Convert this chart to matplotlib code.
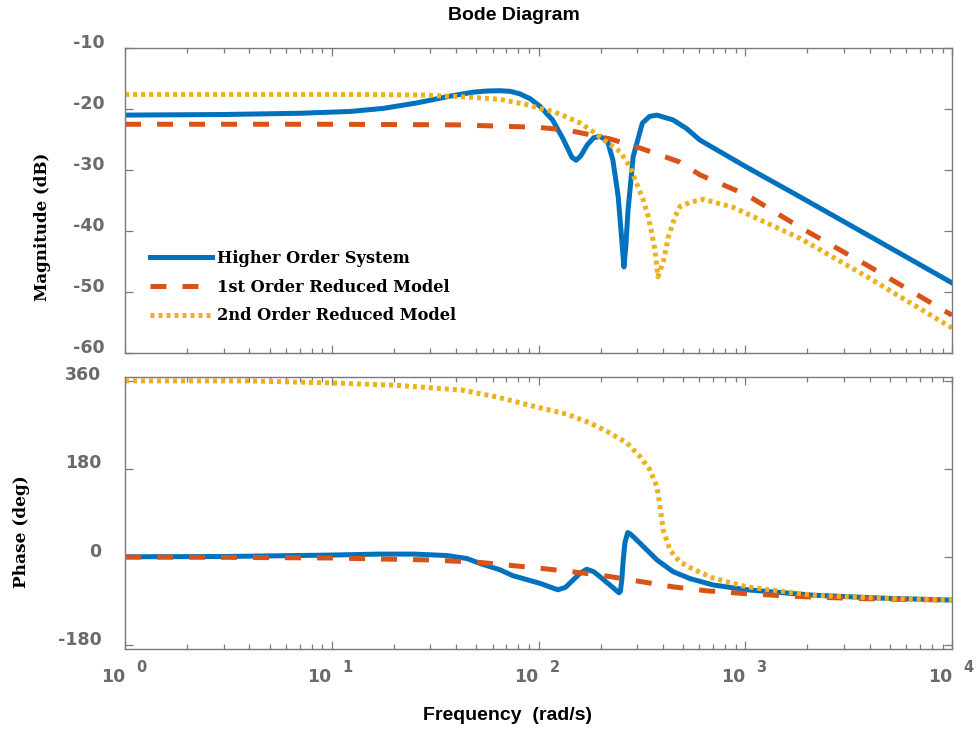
import numpy as np
import matplotlib
matplotlib.use('Agg')
import matplotlib.pyplot as plt
from matplotlib.ticker import NullFormatter, FixedLocator
from matplotlib.transforms import ScaledTranslation

# magnitude (dB)
w_hos_mag = [1, 3, 7, 12.3, 17.7, 25.8, 37.2, 48, 56, 65, 73, 81, 91, 102, 117, 131, 145, 152, 160, 172, 185, 198, 215, 229, 243, 252, 259, 265, 271, 287, 318, 345, 374, 448, 520, 604, 1000, 1840, 3880, 10000]
hos_mag = [-21.0, -20.9, -20.7, -20.4, -19.9, -19.0, -17.9, -17.25, -17.05, -17.0, -17.1, -17.5, -18.3, -19.6, -21.8, -24.8, -27.9, -28.4, -27.7, -25.9, -24.7, -24.5, -25.1, -28.4, -34.4, -40.9, -45.9, -42.0, -36.6, -27.8, -22.3, -21.2, -21.0, -21.8, -23.2, -25.1, -29.4, -34.4, -40.6, -48.5]

w_rom1_mag = [1, 10, 40, 100, 140, 222, 310, 483, 604, 1019, 1840, 3880, 10000]
rom1_mag = [-22.5, -22.5, -22.6, -23.0, -23.5, -24.9, -26.4, -28.7, -30.8, -34.1, -39.4, -45.6, -53.8]

w_rom2_mag = [1, 10, 27, 43, 65, 88, 102, 117, 137, 159, 183, 213, 248, 277, 298, 321, 340, 353, 366, 378, 403, 425, 457, 483, 540, 625, 873, 1273, 1840, 3880, 10000]
rom2_mag = [-17.6, -17.6, -17.7, -18.0, -18.4, -19.3, -19.9, -20.4, -21.3, -22.3, -23.7, -25.4, -27.0, -29.5, -32.2, -34.9, -37.7, -40.4, -43.1, -47.5, -44.8, -40.9, -37.7, -36.0, -35.3, -34.8, -36.1, -38.7, -41.2, -47.5, -55.9]

# phase (deg)
w_hos_ph = [1, 3, 10, 17, 25, 36, 45, 52, 65, 75, 102, 124, 135, 147, 159, 171, 185, 198, 227, 245, 249, 253, 257, 262, 270, 278, 290, 310, 374, 448, 540, 698, 1019, 2128, 4485, 10000]
hos_ph = [0.5, 1, 4, 6, 6, 3, -3, -13, -26, -38, -54, -67, -62, -47, -33, -25, -30, -40, -61, -73, -70, -45, -5, 30, 50, 47, 40, 28, -6, -30, -44, -57, -67, -78, -84, -88]

w_rom1_ph = [1, 3, 10, 17, 30, 52, 102, 159, 222, 310, 448, 650, 1019, 1500, 2128, 4485, 10000]
rom1_ph = [-0.2, -0.6, -2, -4, -6, -11, -23, -32, -40, -50, -61, -69, -75, -79, -82, -86, -88]

w_rom2_ph = [1, 3.9, 9.8, 20.6, 43, 63, 91, 137, 175, 214, 268, 310, 346, 374, 387, 401, 433, 483, 560, 698, 1019, 2128, 4485, 10000]
rom2_ph = [360, 360, 356, 351, 341, 327, 310, 292, 275, 257, 233, 205, 178, 144, 103, 55, 14, -10, -25, -43, -61, -78, -84, -88]

labels = ['Higher Order System', '1st Order Reduced Model', '2nd Order Reduced Model']
mag_ticks = [-60, -50, -40, -30, -20, -10]
ph_ticks = [-180, 0, 180, 360]
decades = [0, 1, 2, 3, 4]
minor_x = [k * 10.0 ** d for d in decades[:-1] for k in range(2, 10)]

blue = '#0072BD'
red = '#D95319'
yellow = '#EDB120'
gray = '#6a6a6a'
spine_col = '#7a7a7a'

fig = plt.figure(figsize=(9.76, 7.33), dpi=100)
ax1 = fig.add_axes([0.1281, 0.5184, 0.8473, 0.4161])
ax2 = fig.add_axes([0.1281, 0.1146, 0.8473, 0.3711])

lw = 3.6
for ax, (wh, h), (w1, r1), (w2, r2) in [
        (ax1, (w_hos_mag, hos_mag), (w_rom1_mag, rom1_mag), (w_rom2_mag, rom2_mag)),
        (ax2, (w_hos_ph, hos_ph), (w_rom1_ph, rom1_ph), (w_rom2_ph, rom2_ph))]:
    ax.set_xscale('log')
    ax.plot(wh, h, color=blue, lw=lw, solid_joinstyle='round', label=labels[0])
    ax.plot(w1, r1, color=red, lw=lw, dashes=(3.2, 3.2), label=labels[1])
    ax.plot(w2, r2, color=yellow, lw=lw, dashes=(0.8, 0.8), label=labels[2])
    ax.set_xlim(1, 1e4)
    ax.set_xticks([10.0 ** d for d in decades])
    ax.set_xticks(minor_x, minor=True)
    ax.xaxis.set_major_formatter(NullFormatter())
    ax.xaxis.set_minor_formatter(NullFormatter())
    for s in ax.spines.values():
        s.set_color(spine_col)
        s.set_linewidth(1.0)
    ax.tick_params(axis='both', which='major', direction='in', top=True, right=True,
                   color=spine_col, length=6, width=0.9)
    ax.tick_params(axis='x', which='minor', direction='in', bottom=True, top=True,
                   color=spine_col, length=3.5, width=0.9)

ax1.set_ylim(-60, -10)
ax1.set_yticks(mag_ticks)
ax1.set_yticklabels([str(t) for t in mag_ticks])
ax1.tick_params(axis='y', pad=15)

ax2.set_ylim(-188, 368)
ax2.set_yticks(ph_ticks)
ax2.set_yticklabels([str(t) for t in ph_ticks])
ax2.tick_params(axis='y', pad=17)

up = ScaledTranslation(0, 0.075, fig.dpi_scale_trans)
for ax in (ax1, ax2):
    for t in ax.get_yticklabels():
        t.set_fontfamily('DejaVu Sans')
        t.set_fontweight('bold')
        t.set_fontsize(12.5)
        t.set_color(gray)
        t.set_transform(t.get_transform() + up)

# x tick labels drawn as 10 with a raised exponent
for d in decades:
    ax2.annotate('10', xy=(10.0 ** d, 0), xycoords=('data', 'axes fraction'),
                 xytext=(0, -33), textcoords='offset pixels', ha='right', va='baseline',
                 fontsize=12.5, fontweight='bold', color=gray, family='DejaVu Sans',
                 annotation_clip=False)
    ax2.annotate(str(d), xy=(10.0 ** d, 0), xycoords=('data', 'axes fraction'),
                 xytext=(11, -23), textcoords='offset pixels', ha='left', va='baseline',
                 fontsize=10.5, fontweight='bold', color=gray, family='DejaVu Sans',
                 annotation_clip=False)

leg = ax1.legend(loc='center left', bbox_to_anchor=(0.03, 0.216), frameon=False,
                 borderpad=0, borderaxespad=0, handlelength=3.8, handletextpad=0.35,
                 labelspacing=0.72, prop={'family': 'DejaVu Serif', 'weight': 'bold', 'size': 11.7})

fig.text(514 / 976, 1 - 15 / 733, 'Bode Diagram', ha='center', va='center',
         family='Liberation Sans', fontweight='bold', fontsize=14)
fig.text(508 / 976, 1 - 716 / 733, 'Frequency  (rad/s)', ha='center', va='center',
         family='Liberation Sans', fontweight='bold', fontsize=14)
fig.text(43 / 976, 1 - 227 / 733, 'Magnitude (dB)', rotation=90, ha='center', va='center',
         family='DejaVu Serif', fontweight='bold', fontsize=12)
fig.text(22 / 976, 1 - 532 / 733, 'Phase (deg)', rotation=90, ha='center', va='center',
         family='DejaVu Serif', fontweight='bold', fontsize=12.2)

fig.savefig('out.png', dpi=100)
